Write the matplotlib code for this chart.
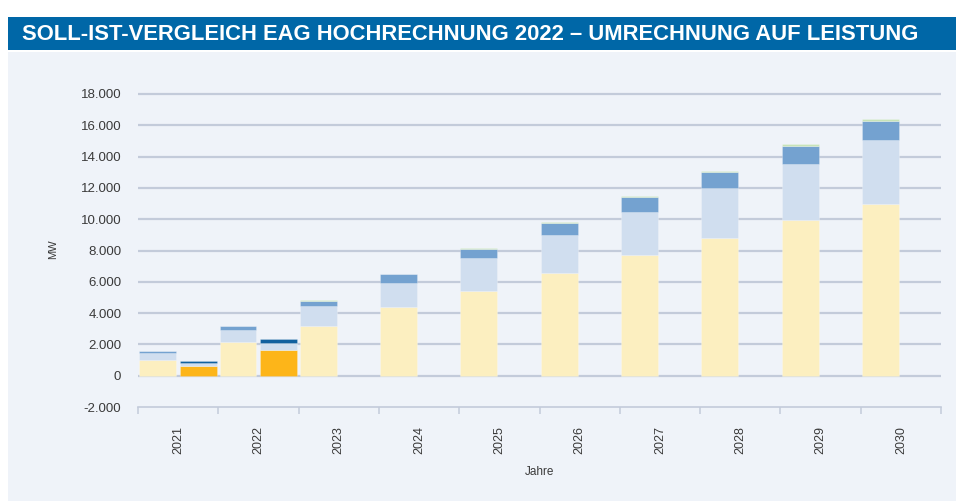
import numpy as np
import matplotlib
matplotlib.use('Agg')
import matplotlib.pyplot as plt
from matplotlib.patches import Rectangle
from matplotlib.ticker import FuncFormatter

# Daten (MW)
jahre = ['2021', '2022', '2023', '2024', '2025', '2026', '2027', '2028', '2029', '2030']
soll_gelb = [1000, 2130, 3200, 4360, 5430, 6550, 7690, 8800, 9930, 11000]
soll_hellblau = [450, 800, 1260, 1580, 2080, 2440, 2800, 3220, 3590, 4050]
soll_blau = [120, 250, 340, 530, 610, 770, 910, 970, 1150, 1240]
soll_gruen = [10, 15, 20, 40, 50, 60, 80, 110, 120, 130]

ist_jahre = ['2021', '2022']
ist_orange = [600, 1650]
ist_hellblau = [230, 420]
ist_dunkelblau = [130, 300]

bg = '#EFF3F9'
c_gelb = '#FCEFC0'
c_hellblau = '#D0DEEF'
c_blau = '#74A2D0'
c_gruen = '#C7E3B8'
c_orange = '#FDB519'
c_dunkelblau = '#12619F'
c_grid = '#C3CBDA'
c_text = '#3A3A3A'

plt.rcParams['font.family'] = ['Liberation Sans', 'DejaVu Sans']

fig = plt.figure(figsize=(9.56, 5.01), dpi=100)
fig.patch.set_facecolor('white')

# Hintergrund und Titelbalken
fig.patches.append(Rectangle((8/956, 0), 1, (501-52)/501, transform=fig.transFigure,
                             facecolor=bg, edgecolor='none', zorder=0))
fig.patches.append(Rectangle((8/956, (501-50)/501), 1, 33/501, transform=fig.transFigure,
                             facecolor='#0067A7', edgecolor='none', zorder=1))
fig.text(22/956, (501-34)/501, 'SOLL-IST-VERGLEICH EAG HOCHRECHNUNG 2022 \u2013 UMRECHNUNG AUF LEISTUNG',
         color='white', fontsize=15.8, fontweight='bold', va='center', ha='left')

top_px = 94 - 200 * (407 - 94) / 20000
ax = fig.add_axes([138/956, (501-407)/501, (941-138)/956, (407-top_px)/501])
ax.set_facecolor('none')
ax.set_zorder(5)

x = np.arange(len(jahre))
w = 0.46
xs = x - 0.255
kante = (1, 1, 1, 0.3)
b = np.zeros(len(jahre))
for vals, col in [(soll_gelb, c_gelb), (soll_hellblau, c_hellblau), (soll_blau, c_blau), (soll_gruen, c_gruen)]:
    ax.bar(xs, vals, w, bottom=b, color=col, edgecolor=kante, lw=0.5, zorder=3)
    b = b + np.array(vals)

xi = np.array([jahre.index(j) for j in ist_jahre]) + 0.255
b = np.zeros(len(ist_jahre))
for vals, col in [(ist_orange, c_orange), (ist_hellblau, c_hellblau), (ist_dunkelblau, c_dunkelblau)]:
    ax.bar(xi, vals, w, bottom=b, color=col, edgecolor=kante, lw=0.5, zorder=3)
    b = b + np.array(vals)

ax.set_xlim(-0.5, len(jahre) - 0.5)
ax.set_ylim(-2000, 18200)
ax.set_yticks(np.arange(-2000, 18001, 2000))
ax.yaxis.set_major_formatter(FuncFormatter(lambda v, p: f'{int(v):,}'.replace(',', '.')))
for yv in np.arange(0, 18001, 2000):
    ax.axhline(yv, color=c_grid, lw=1.6, zorder=1)

ax.set_xticks(x)
ax.set_xticklabels(jahre, rotation=90)
ax.set_xticks(np.arange(-0.5, len(jahre)), minor=True)
ax.tick_params(axis='x', which='major', length=0, pad=14, labelsize=9, colors=c_text)
ax.tick_params(axis='x', which='minor', length=5, width=1.1, color=c_grid, direction='out')
ax.tick_params(axis='y', length=0, pad=12, labelsize=9.5, colors=c_text)

for s in ['top', 'right', 'left']:
    ax.spines[s].set_visible(False)
ax.spines['bottom'].set_color(c_grid)
ax.spines['bottom'].set_linewidth(1.2)

ax.set_ylabel('MW', fontsize=8, color=c_text, labelpad=16)
ax.set_xlabel('Jahre', fontsize=8.5, color=c_text, labelpad=8)

fig.savefig('out.png', dpi=100, facecolor=fig.get_facecolor())
